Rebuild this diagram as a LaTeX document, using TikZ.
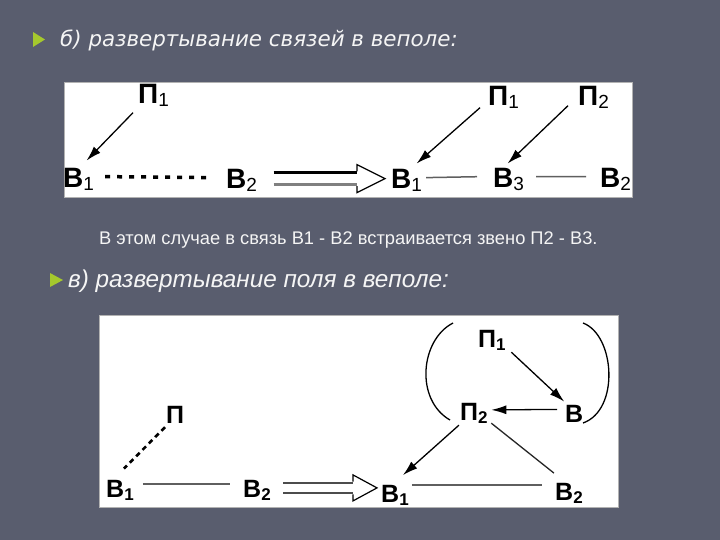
\documentclass[tikz,border=0pt]{standalone}
\usepackage{fontspec}
\setmainfont{Liberation Sans}
\newfontfamily\titlefont{DejaVu Sans}
\usetikzlibrary{arrows.meta,calc}
\definecolor{bg}{RGB}{89,93,110}
\definecolor{bul}{RGB}{165,200,45}
\definecolor{lgray}{RGB}{95,95,95}
\definecolor{txt}{RGB}{245,245,245}
\newcommand\ia[1]{\raisebox{-2.5pt}{\fontsize{19}{19}\selectfont\mdseries #1}}
\newcommand\ib[1]{\raisebox{-3pt}{\fontsize{17}{17}\selectfont #1}}
\begin{document}
\begin{tikzpicture}[x=1pt,y=-1pt,
  lblA/.style={anchor=base west,inner sep=0pt,font=\fontsize{28}{28}\selectfont\bfseries},
  lblB/.style={anchor=base west,inner sep=0pt,font=\fontsize{25}{25}\selectfont\bfseries},
  arr/.style={draw=black,line width=1.3pt,-{Latex[length=15pt,width=9pt]}},
  link/.style={draw=lgray,line width=1.5pt},
  bulletmark/.style={fill=bul},
  panel/.style={fill=white,draw=gray!60,line width=0.6pt}]
\fill[bg] (0,0) rectangle (720,540);
\useasboundingbox (0,0) rectangle (720,540);

% texts
\fill[bulletmark] (33,32) -- (45,39.5) -- (33,47) -- cycle;
\node[anchor=base west,inner sep=0pt,text=txt,font=\titlefont\itshape\fontsize{21.4}{21.4}\selectfont] (title) at (60,47) {б) развертывание связей в веполе:};
\node[anchor=base west,inner sep=0pt,text=txt,font=\fontsize{18.3}{18.3}\selectfont] (note) at (99,244) {В этом случае в связь В1 - В2 встраивается звено П2 - В3.};
\fill[bulletmark] (50,273) -- (63,280) -- (50,287) -- cycle;
\node[anchor=base west,inner sep=0pt,text=txt,font=\itshape\fontsize{24.3}{24.3}\selectfont] (sub) at (68,287) {в) развертывание поля в веполе:};

% panels
\path[panel] (64,82) rectangle (632,197);
\path[panel] (99,315) rectangle (618,507);

% top panel
\node[lblA] (b1l) at (63,188) {В\ia{1}};
\node[lblA] (p1l) at (138,104) {П\ia{1}};
\node[lblA] (b2l) at (226,189) {В\ia{2}};
\node[lblA] (b1r) at (391,189) {В\ia{1}};
\node[lblA] (b3) at (493,188) {В\ia{3}};
\node[lblA] (b2r) at (600,188) {В\ia{2}};
\node[lblA] (p1r) at (488,106) {П\ia{1}};
\node[lblA] (p2r) at (578,106) {П\ia{2}};

\draw[arr] ([shift={(-5,6)}]p1l.south west) -- ([shift={(8,-8)}]b1l.north);
\draw[line width=3.5pt,dash pattern=on 5pt off 7pt] ([shift={(11,-3)}]b1l.east) -- ([shift={(-13,-3)}]b2l.west);
\draw[arr] ([shift={(-8,-1)}]p1r.south west) -- ([shift={(10,-6)}]b1r.north);
\draw[arr] ([shift={(-10,-3)}]p2r.south west) -- ([shift={(-1,-5)}]b3.north);
\draw[link] ([shift={(4,-3)}]b1r.east) -- ([shift={(-16,-3)}]b3.west);
\draw[link] ([shift={(12,-3)}]b3.east) -- ([shift={(-14,-3)}]b2r.west);

\coordinate (ta) at ([shift={(16.5,-2)}]b2l.east);
\coordinate (tb) at ([shift={(-6,-2)}]b1r.west);
\draw[black,line width=2.6pt] ($(ta)+(0,-6)$) -- ($(tb)+(-28,-6)$);
\draw[gray,line width=2.8pt] ($(ta)+(0,6)$) -- ($(tb)+(-28,6)$);
\draw[black,line width=1.2pt,line join=miter] ($(tb)+(-28,-7.3)$) -- ($(tb)+(-28,-14)$) -- (tb) -- ($(tb)+(-28,14)$) -- ($(tb)+(-28,7.4)$);

% bottom panel
\node[lblB] (pl) at (166,423) {П};
\node[lblB] (b1lb) at (106,497) {В\ib{1}};
\node[lblB] (b2lb) at (243,497) {В\ib{2}};
\node[lblB] (b1rb) at (381,502) {В\ib{1}};
\node[lblB] (b2rb) at (555,500) {В\ib{2}};
\node[lblB] (p1b) at (478,347) {П\ib{1}};
\node[lblB] (p2b) at (460,420) {П\ib{2}};
\node[lblB] (bb) at (565,422) {В};

\draw[line width=2.6pt,dash pattern=on 5pt off 4pt] ([shift={(-1,4)}]pl.south west) -- ([shift={(4,-11)}]b1lb.north);
\draw[link] ([shift={(9,-6)}]b1lb.east) -- ([shift={(-13,-6)}]b2lb.west);
\draw[link] ([shift={(3,-10)}]b1rb.east) -- ([shift={(-13,-8)}]b2rb.west);
\draw[arr] ([shift={(5.5,2)}]p1b.south east) -- ([shift={(-10,-3)}]bb.north);
\draw[arr] ([shift={(-8,-4)}]bb.west) -- ([shift={(3.5,-3)}]p2b.east);
\draw[arr] ([shift={(-15,2)}]p2b.south) -- ([shift={(8,-9.5)}]b1rb.north);
\draw[link,draw=black!85,line width=1.3pt] ([shift={(3.5,0)}]p2b.south east) -- ([shift={(-15,-9.5)}]b2rb.north);

\coordinate (tc) at ([shift={(12.5,-2)}]b2lb.east);
\coordinate (td) at ([shift={(-4,-7)}]b1rb.west);
\draw[black!70,line width=2.8pt] ($(tc)+(0,-5)$) -- ($(td)+(-24,-5)$);
\draw[black!70,line width=2.8pt] ($(tc)+(0,5)$) -- ($(td)+(-24,5)$);
\draw[black,line width=1.2pt,line join=miter] ($(td)+(-24,-6.4)$) -- ($(td)+(-24,-13)$) -- (td) -- ($(td)+(-24,13)$) -- ($(td)+(-24,6.4)$);

\draw[black,line width=1.3pt] (453,323) .. controls (420,340) and (415,400) .. (450,420);
\draw[black,line width=1.3pt] (583,323) .. controls (615,335) and (620,410) .. (583,423);
\end{tikzpicture}
\end{document}
